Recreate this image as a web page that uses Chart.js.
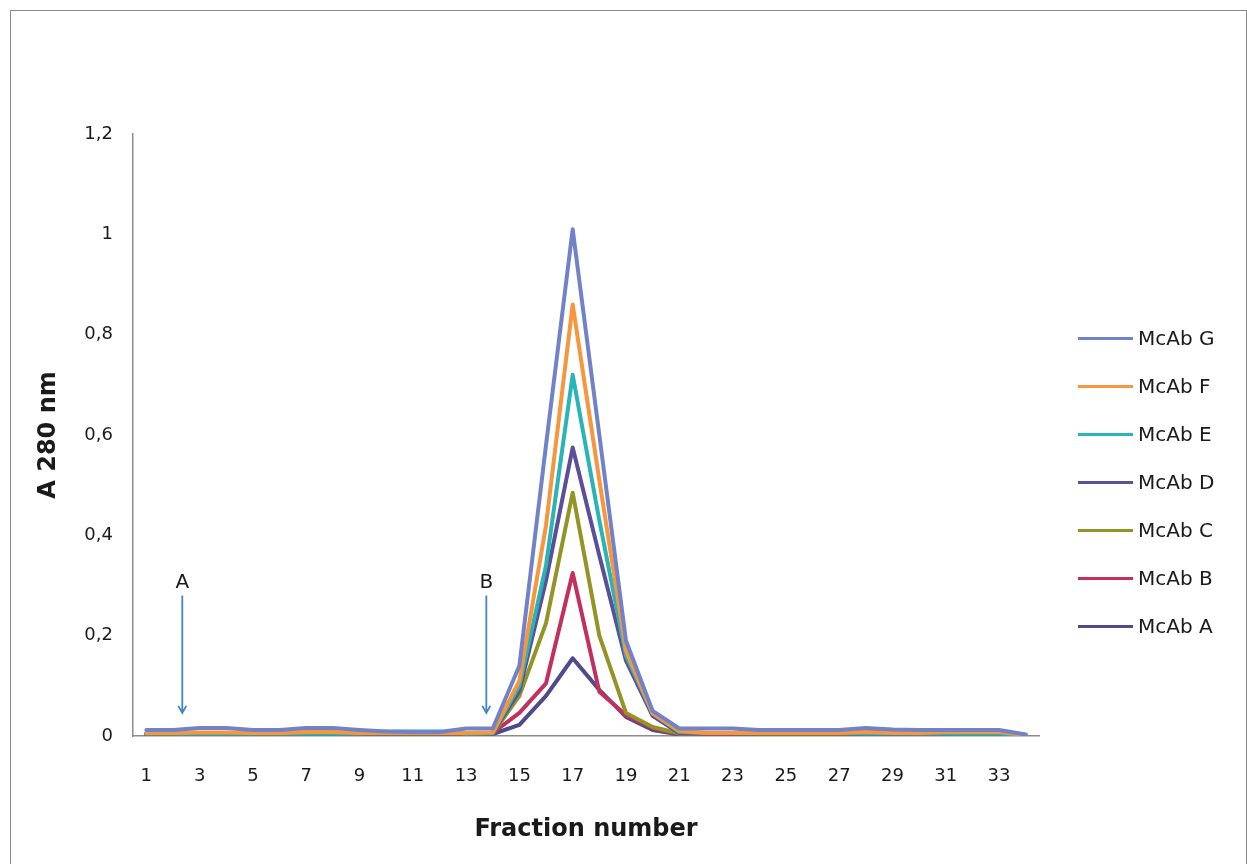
<!DOCTYPE html>
<html>
<head>
<meta charset="utf-8">
<script src="https://cdn.jsdelivr.net/npm/chart.js@4.4.1/dist/chart.umd.min.js"></script>
<style>
  body { margin: 0; background: #fff; }
  #frame { position: absolute; left: 10px; top: 10px; width: 1235px; height: 880px; border: 1px solid #8a8a8a; }
  #wrap { position: absolute; left: 0; top: 0; width: 1247px; height: 864px; }
  #legend { position: absolute; left: 1078px; top: 314px; font-family: "DejaVu Sans", sans-serif; font-size: 20px; color: #1a1a1a; }
  #legend div { height: 48px; display: flex; align-items: center; }
  #legend span.ln { display: inline-block; width: 55px; height: 3px; margin-right: 5px; }
</style>
</head>
<body>
<div id="frame"></div>
<div id="wrap"><canvas id="myChart" width="1247" height="864"></canvas></div>
<div id="legend"></div>
<script>
// fraction numbers 1..34
const fractions = ['1','2','3','4','5','6','7','8','9','10','11','12','13','14','15','16','17',
                   '18','19','20','21','22','23','24','25','26','27','28','29','30','31','32','33','34'];

const mcabG = [0.012,0.012,0.016,0.016,0.012,0.012,0.016,0.016,0.012,0.009,0.008,0.008,0.015,0.015,
               0.14,0.58,1.01,0.60,0.19,0.05,0.015,0.015,0.015,0.012,0.012,0.012,0.012,0.016,0.013,
               0.012,0.012,0.012,0.012,0.003];
const mcabF = [0.006,0.006,0.007,0.007,0.006,0.006,0.008,0.008,0.006,0.006,0.006,0.006,0.006,0.007,
               0.11,0.42,0.86,0.51,0.17,0.045,0.01,0.006,0.006,0.006,0.006,0.006,0.006,0.008,0.006,
               0.006,0.008,0.008,0.008,0.002];
const mcabE = [0.005,0.005,0.005,0.005,0.005,0.005,0.005,0.005,0.005,0.009,0.009,0.009,0.005,0.006,
               0.10,0.34,0.72,0.43,0.16,0.045,0.008,0.006,0.006,0.009,0.009,0.009,0.006,0.005,0.005,
               0.005,0.005,0.005,0.005,0.002];
const mcabD = [0.005,0.005,0.005,0.005,0.005,0.005,0.005,0.005,0.005,0.005,0.005,0.005,0.005,0.006,
               0.09,0.31,0.575,0.36,0.15,0.04,0.006,0.005,0.005,0.005,0.005,0.005,0.005,0.005,0.005,
               0.005,0.005,0.005,0.005,0.002];
const mcabC = [0.004,0.004,0.004,0.004,0.004,0.004,0.004,0.004,0.004,0.004,0.004,0.004,0.004,0.005,
               0.08,0.225,0.485,0.20,0.046,0.018,0.005,0.005,0.005,0.004,0.004,0.004,0.004,0.005,0.006,
               0.005,0.005,0.004,0.004,0.001];
const mcabB = [0.004,0.004,0.004,0.004,0.004,0.004,0.004,0.004,0.004,0.004,0.004,0.004,0.006,0.006,
               0.046,0.105,0.325,0.088,0.042,0.016,0.004,0.004,0.004,0.004,0.004,0.004,0.004,0.008,0.007,
               0.004,0.004,0.004,0.004,0.001];
const mcabA = [0.003,0.003,0.003,0.003,0.003,0.003,0.003,0.003,0.003,0.003,0.003,0.003,0.003,0.004,
               0.022,0.08,0.155,0.092,0.038,0.012,0.003,0.003,0.003,0.003,0.003,0.003,0.003,0.003,0.003,
               0.003,0.003,0.003,0.003,0.001];

const seriesNames  = ['McAb G','McAb F','McAb E','McAb D','McAb C','McAb B','McAb A'];
const seriesData   = [mcabG, mcabF, mcabE, mcabD, mcabC, mcabB, mcabA];
const seriesColors = ['#7282c8','#f7963c','#29b4b6','#5b4f97','#949426','#c4305e','#4f4a8c'];

const yTicks = [0, 0.2, 0.4, 0.6, 0.8, 1, 1.2];

// arrows: A (sample load) and B (elution start)
const markers = [
  { text: 'A', x: 1.35, yTop: 0.28, yBottom: 0.046 },
  { text: 'B', x: 12.76, yTop: 0.28, yBottom: 0.046 }
];

const arrowPlugin = {
  id: 'arrows',
  afterDatasetsDraw(chart) {
    const c = chart.ctx, xs = chart.scales.x, ys = chart.scales.y;
    c.save();
    markers.forEach(m => {
      const px = xs.getPixelForValue(m.x);
      const y1 = ys.getPixelForValue(m.yTop), y2 = ys.getPixelForValue(m.yBottom);
      c.strokeStyle = '#4287c4';
      c.lineWidth = 1.8;
      c.beginPath();
      c.moveTo(px, y1); c.lineTo(px, y2);
      c.moveTo(px - 4, y2 - 7); c.lineTo(px, y2); c.lineTo(px + 4, y2 - 7);
      c.stroke();
      c.fillStyle = '#1a1a1a';
      c.font = '20px "DejaVu Sans"';
      c.textAlign = 'center';
      c.textBaseline = 'bottom';
      c.fillText(m.text, px, y1 - 3);
    });
    c.restore();
  }
};

const ctx = document.getElementById('myChart');
const chart = new Chart(ctx, {
  type: 'line',
  data: {
    labels: fractions,
    datasets: seriesNames.map((n, i) => ({
      label: n,
      data: seriesData[i],
      borderColor: seriesColors[i],
      backgroundColor: seriesColors[i],
      borderWidth: 4,
      borderJoinStyle: 'round',
      borderCapStyle: 'round',
      pointRadius: 0,
      tension: 0,
      fill: false
    }))
  },
  options: {
    responsive: false,
    animation: false,
    layout: { padding: { left: 34, top: 134, right: 208, bottom: 20 } },
    plugins: {
      legend: { display: false },
      tooltip: { enabled: false }
    },
    scales: {
      x: {
        offset: true,
        afterFit: axis => { axis.height = 108; },
        grid: { display: false, drawTicks: false },
        border: { display: true, color: '#8c8c8c', width: 1.5 },
        ticks: {
          autoSkip: false,
          maxRotation: 0,
          padding: 30,
          color: '#1a1a1a',
          font: { family: 'DejaVu Sans', size: 18 },
          callback: function (v, i) { return i % 2 === 0 ? fractions[i] : ''; }
        },
        title: {
          display: true,
          text: 'Fraction number',
          color: '#1a1a1a',
          font: { family: 'DejaVu Sans', size: 24, weight: 'bold' },
          padding: { top: 28, bottom: 0 }
        }
      },
      y: {
        min: 0,
        max: 1.2,
        afterBuildTicks: axis => { axis.ticks = yTicks.map(v => ({ value: v })); },
        afterFit: axis => { axis.width = 99; },
        grid: { display: false, drawTicks: false },
        border: { display: true, color: '#8c8c8c', width: 1.5 },
        ticks: {
          padding: 20,
          color: '#1a1a1a',
          font: { family: 'DejaVu Sans', size: 18 },
          callback: v => String(Math.round(v * 10) / 10).replace('.', ',')
        },
        title: {
          display: true,
          text: 'A 280 nm',
          color: '#1a1a1a',
          font: { family: 'DejaVu Sans', size: 24, weight: 'bold' },
          padding: { top: 0, bottom: 22 }
        }
      }
    }
  },
  plugins: [arrowPlugin]
});

// legend on the right, same order as Excel
const lg = document.getElementById('legend');
seriesNames.forEach((n, i) => {
  const row = document.createElement('div');
  row.innerHTML = '<span class="ln" style="background:' + seriesColors[i] + '"></span>' + n;
  lg.appendChild(row);
});
</script>
</body>
</html>
